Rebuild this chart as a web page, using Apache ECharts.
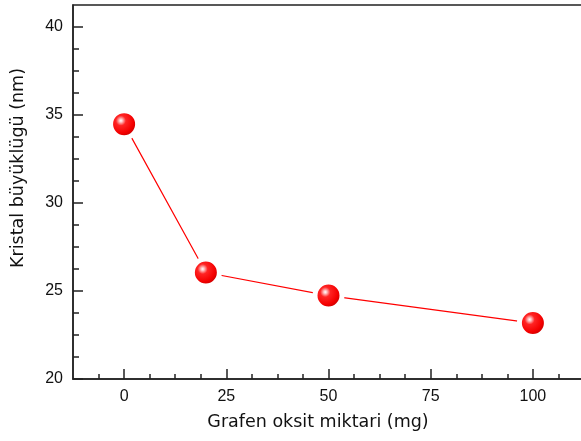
<!DOCTYPE html>
<html>
<head>
<meta charset="utf-8">
<script src="https://cdn.jsdelivr.net/npm/echarts@6/dist/echarts.min.js"></script>
<style>html,body{margin:0;padding:0;background:#fff;}#c{width:581px;height:441px;}</style>
</head>
<body>
<div id="c"></div>
<script>
const grafenOksit = [0, 20, 50, 100];
const kristalBuyuklugu = [34.48, 26.05, 24.74, 23.18];
const xTickLabels = [0, 25, 50, 75, 100];
const xMinorTicks = [-6.25, 6.25, 12.5, 18.75, 31.25, 37.5, 43.75, 56.25, 62.5, 68.75, 81.25, 87.5, 93.75, 106.25];
const yTickLabels = [20, 25, 30, 35, 40];
const yMinorTicks = [21.25, 22.5, 23.75, 26.25, 27.5, 28.75, 31.25, 32.5, 33.75, 36.25, 37.5, 38.75];
const xTitle = 'Grafen oksit miktari (mg)';
const yTitle = 'Kristal büyüklügü (nm)';

const X_MIN = -12.5, X_MAX = 112.5, Y_MIN = 20, Y_MAX = 41.25;
const axisColor = '#222';

const chart = echarts.init(document.getElementById('c'), null, {renderer: 'canvas'});

const sphere = {
  type: 'radial', x: 0.4, y: 0.39, r: 0.52,
  colorStops: [
    {offset: 0, color: '#ffffff'},
    {offset: 0.1, color: '#ffc0c0'},
    {offset: 0.3, color: '#ff2424'},
    {offset: 0.75, color: '#f40000'},
    {offset: 1, color: '#c80000'}
  ]
};

chart.setOption({
  animation: false,
  backgroundColor: '#fff',
  grid: {left: 73, top: 5, width: 511, height: 374, outerBoundsMode: 'none', containLabel: false, show: true, borderColor: axisColor, borderWidth: 1.5, backgroundColor: 'transparent'},
  xAxis: [{
    type: 'value', min: X_MIN, max: X_MAX, position: 'bottom',
    axisLine: {show: true, onZero: false, lineStyle: {color: axisColor, width: 1.5}},
    axisTick: {show: true, inside: true, length: 10, customValues: xTickLabels, lineStyle: {color: axisColor, width: 1.5}},
    axisLabel: {show: true, customValues: xTickLabels, margin: 10, fontFamily: 'Liberation Sans', fontSize: 16, color: '#111'},
    splitLine: {show: false}
  }, {
    type: 'value', min: X_MIN, max: X_MAX, position: 'bottom',
    axisLine: {show: false, onZero: false},
    axisTick: {show: true, inside: true, length: 5, customValues: xMinorTicks, lineStyle: {color: axisColor, width: 1.5}},
    axisLabel: {show: false},
    splitLine: {show: false}
  }],
  yAxis: [{
    type: 'value', min: Y_MIN, max: Y_MAX, position: 'left',
    axisLine: {show: true, onZero: false, lineStyle: {color: axisColor, width: 1.5}},
    axisTick: {show: true, inside: true, length: 10, customValues: yTickLabels, lineStyle: {color: axisColor, width: 1.5}},
    axisLabel: {show: true, customValues: yTickLabels, margin: 10, fontFamily: 'Liberation Sans', fontSize: 16, color: '#111'},
    splitLine: {show: false}
  }, {
    type: 'value', min: Y_MIN, max: Y_MAX, position: 'left',
    axisLine: {show: false, onZero: false},
    axisTick: {show: true, inside: true, length: 6, customValues: yMinorTicks, lineStyle: {color: axisColor, width: 1.5}},
    axisLabel: {show: false},
    splitLine: {show: false}
  }],
  graphic: [
    {type: 'text', x: 318, y: 422, style: {text: xTitle, font: '17.5px "DejaVu Sans"', fill: '#111', align: 'center', verticalAlign: 'middle'}},
    {type: 'text', x: 18, y: 168, rotation: Math.PI / 2, style: {text: yTitle, font: '17.5px "DejaVu Sans"', fill: '#111', align: 'center', verticalAlign: 'middle'}}
  ],
  series: [{
    type: 'line',
    xAxisIndex: 0, yAxisIndex: 0,
    data: grafenOksit.map((x, i) => [x, kristalBuyuklugu[i]]),
    lineStyle: {color: '#ff0000', width: 1.2},
    symbol: 'circle',
    symbolSize: 27,
    itemStyle: {color: sphere, borderColor: '#ffffff', borderWidth: 5},
    z: 3
  }]
});
</script>
</body>
</html>
